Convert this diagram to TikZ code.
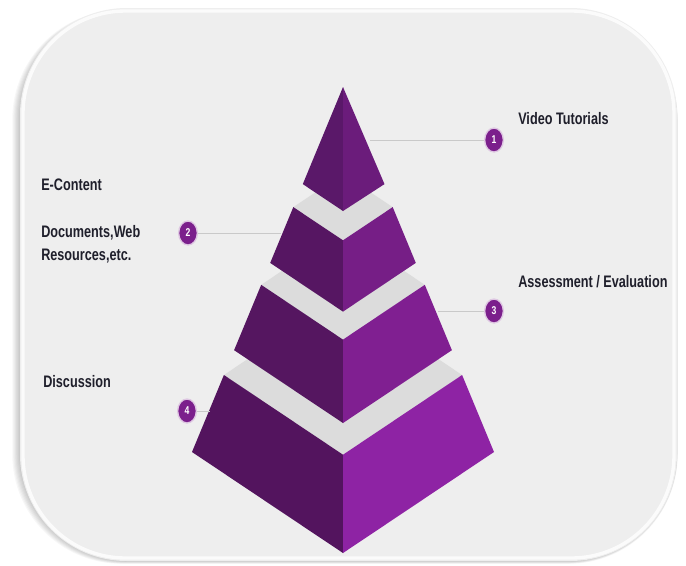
\documentclass[tikz,border=0pt]{standalone}
\usepackage{fontspec}
\usepackage{xcolor}
\newfontfamily\lblfont[FakeStretch=0.76]{Liberation Sans}
\usepackage{tikz}
\usetikzlibrary{shapes.geometric}

\definecolor{panelgray}{HTML}{EEEEEE}
\definecolor{bandgray}{HTML}{DCDCDC}
\definecolor{leadgray}{HTML}{C9C9C9}
\definecolor{textdark}{HTML}{1F1F2B}
\definecolor{badgepurple}{HTML}{7B1F8C}
\definecolor{leftA}{HTML}{5A1869}
\definecolor{leftB}{HTML}{561662}
\definecolor{leftC}{HTML}{551660}
\definecolor{leftD}{HTML}{53145E}
\definecolor{rightA}{HTML}{6B1C7B}
\definecolor{rightB}{HTML}{761E86}
\definecolor{rightC}{HTML}{801F91}
\definecolor{rightD}{HTML}{8E23A4}

\begin{document}
\begin{tikzpicture}[x=0.75pt,y=-0.75pt,
  tagtext/.style={anchor=west, inner sep=0pt, text=textdark, align=left,
    font=\lblfont\bfseries\fontsize{12.5}{17}\selectfont},
  badge/.style={ellipse, fill=badgepurple, text=white, inner sep=0pt,
    draw=badgepurple!25, line width=1pt,
    minimum width=14pt, minimum height=18pt,
    font=\lblfont\bfseries\fontsize{8.5}{8.5}\selectfont},
  leader/.style={draw=leadgray, line width=0.7pt}]
\useasboundingbox (0,0) rectangle (686,565);
\fill[white] (0,0) rectangle (686,565);

% panel with soft shadow
\foreach \d in {1,...,7}
  \fill[black, opacity=0.03, rounded corners=82] (20-1.1*\d,10) rectangle (677+0.1*\d,561+0.4*\d);
\fill[panelgray, rounded corners=80] (20,8) rectangle (677,561);
\draw[white, opacity=0.8, line width=2.5pt, rounded corners=77] (23,11) rectangle (674,558);

% tier 4 (base)
\fill[bandgray] (223.9,375) -- (343,295.3) -- (462.1,375) -- (343,454.7) -- cycle;
\fill[leftD] (223.9,375) -- (343,454.7) -- (343,553) -- (192,452) -- cycle;
\fill[rightD] (343,454.7) -- (462.1,375) -- (494,452) -- (343,553) -- cycle;

% tier 3
\fill[bandgray] (261.2,284.8) -- (343,230.1) -- (424.8,284.8) -- (343,339.6) -- cycle;
\fill[leftC] (261.2,284.8) -- (343,339.6) -- (343,423) -- (234.1,350.2) -- cycle;
\fill[rightC] (343,339.6) -- (424.8,284.8) -- (451.9,350.2) -- (343,423) -- cycle;

% tier 2
\fill[bandgray] (293.3,207.1) -- (343,173.9) -- (392.7,207.1) -- (343,240.3) -- cycle;
\fill[leftB] (293.3,207.1) -- (343,240.3) -- (343,311.6) -- (270.2,262.9) -- cycle;
\fill[rightB] (343,240.3) -- (392.7,207.1) -- (415.8,262.9) -- (343,311.6) -- cycle;

% tier 1 (top)
\fill[leftA] (343,87) -- (343,211) -- (302.8,184.1) -- cycle;
\fill[rightA] (343,87) -- (384.5,184.1) -- (343,211) -- cycle;

% badges and leaders
\node[badge] (b1) at (494,140) {1};
\node[badge] (b2) at (188,233) {2};
\node[badge] (b3) at (494,311) {3};
\node[badge] (b4) at (187,411) {4};
\coordinate (e1) at (370,140);
\coordinate (e2) at (281,233);
\coordinate (e3) at (438,311);
\coordinate (e4) at (210,411);
\draw[leader] (e1) -- (b1);
\draw[leader] (e2) -- (b2);
\draw[leader] (e3) -- (b3);
\draw[leader] (e4) -- (b4);

% texts
\node[tagtext] (video) at (518,119) {Video Tutorials};
\node[tagtext] (econtent) at (41,185) {E-Content};
\node[tagtext] (docs) at (41,244) {Documents,Web\\Resources,etc.};
\node[tagtext] (assess) at (518,282) {Assessment / Evaluation};
\node[tagtext] (discuss) at (43,382) {Discussion};
\end{tikzpicture}
\end{document}
